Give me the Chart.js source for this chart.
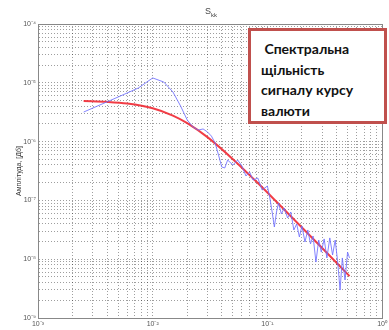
<!DOCTYPE html>
<html>
<head>
<meta charset="utf-8">
<script src="https://cdn.jsdelivr.net/npm/chart.js@4/dist/chart.umd.min.js"></script>
<style>
  html, body { margin: 0; padding: 0; background: #fff; }
  #wrap { position: relative; width: 389px; height: 330px; overflow: hidden; }
  #c { position: absolute; left: 0; top: 0; }
  #title { position: absolute; left: 205px; top: 6px; font: 9px "Liberation Sans", Arial, sans-serif; color: #444; }
  #title sub { font-size: 6px; }
  #note { position: absolute; left: 248px; top: 28px; width: 133px; height: 90px; border: 3px solid #c0504d; background: #fff;
          font: bold 14px Lato, "Open Sans", sans-serif; color: #111; line-height: 20.5px; padding: 0; box-sizing: content-box; }
  #note div { position: absolute; left: 10px; top: 8px; white-space: pre; }
</style>
</head>
<body>
<div id="wrap">
  <canvas id="c" width="389" height="330"></canvas>
  <div id="title">S<sub>kk</sub></div>
  <div id="note"><div> Спектральна
щільність
сигналу курсу
валюти</div></div>
</div>
<script>
// ---- data ----
const xDecades = [1e-3, 1e-2, 1e-1, 1e0];
const xTickLabels = ['10⁻³', '10⁻²', '10⁻¹', '10⁰'];
const yDecades = [1e-9, 1e-8, 1e-7, 1e-6, 1e-5, 1e-4];
const yTickLabels = ['10⁻⁹', '10⁻⁸', '10⁻⁷', '10⁻⁶', '10⁻⁵', '10⁻⁴'];
const yAxisTitle = 'Амплітуда, [Дб]';

const freqSpectrum = [0.0025,0.005,0.0075,0.01,0.0125,0.015,0.0175,0.02,0.0225,0.025,0.0275,0.03,0.0325,0.035,0.0375,0.04,0.0425,0.045,
  0.05,0.055,0.06,0.065,0.07,0.075,0.0825,0.09,0.1,0.105,0.11,0.115,0.12,0.125,0.1325,0.14,0.15,0.16,0.17,0.18,0.19,0.2,
  0.2125,0.225,0.2375,0.25,0.265,0.28,0.295,0.3125,0.33,0.35,0.37,0.39,0.41,0.43,0.45,0.475,0.5,0.52];
const ampSpectrum = [3.18e-6,5.74e-6,8.16e-6,1.21e-5,1.03e-5,6.98e-6,4.03e-6,2.33e-6,1.77e-6,1.57e-6,1.64e-6,1.46e-6,1.24e-6,9.5e-7,5.9e-7,3.7e-7,3.56e-7,4.86e-7,
  4.0e-7,4.86e-7,3.85e-7,2.60e-7,3.04e-7,2.22e-7,2.40e-7,1.50e-7,1.76e-7,1.10e-7,6.35e-8,3.53e-8,6.35e-8,9.0e-8,5.87e-8,7.43e-8,5.02e-8,6.35e-8,3.14e-8,3.97e-8,2.39e-8,3.67e-8,
  1.96e-8,3.14e-8,1.82e-8,2.48e-8,8.95e-9,2.12e-8,1.32e-8,2.21e-8,1.05e-8,2.30e-8,1.18e-8,2.12e-8,8.95e-9,2.99e-9,1.05e-8,4.43e-9,1.32e-8,1.05e-8];

const freqFit = [0.0025,0.004,0.006,0.01,0.015,0.02,0.03,0.05,0.08,0.12,0.2,0.3,0.52];
const ampFit = [4.9e-6,4.74e-6,4.44e-6,3.69e-6,2.77e-6,2.06e-6,1.19e-6,5.03e-7,2.09e-7,9.5e-8,3.47e-8,1.55e-8,5.16e-9];
// --------------------------------------

function gridTicks(decades) {
  const t = [];
  for (let i = 0; i < decades.length; i++) {
    t.push({ value: decades[i] });
    if (i < decades.length - 1) for (let m = 2; m <= 9; m++) t.push({ value: m * decades[i] });
  }
  return t;
}
function labelFor(decades, labels) {
  return (v) => {
    for (let i = 0; i < decades.length; i++) if (Math.abs(v / decades[i] - 1) < 1e-6) return labels[i];
    return '';
  };
}

const frame = {
  id: 'frame',
  afterDraw(chart) {
    const { ctx, chartArea: a } = chart;
    ctx.save();
    ctx.strokeStyle = '#888';
    ctx.lineWidth = 1;
    ctx.strokeRect(Math.round(a.left) + 0.5, Math.round(a.top) + 0.5, Math.round(a.right - a.left), Math.round(a.bottom - a.top));
    ctx.restore();
  }
};

const tickFont = { family: '"Liberation Sans", Arial, sans-serif', size: 7 };
const gridOpts = { color: 'rgba(0,0,0,0.38)', lineWidth: 1, tickLength: 0, drawTicks: false };
const borderOpts = { display: true, color: '#888', dash: [1, 2] };

new Chart(document.getElementById('c'), {
  type: 'line',
  data: {
    datasets: [
      {
        data: freqSpectrum.map((f, i) => ({ x: f, y: ampSpectrum[i] })),
        borderColor: 'rgba(110,110,255,0.85)', borderWidth: 1, pointRadius: 0, tension: 0
      },
      {
        data: freqFit.map((f, i) => ({ x: f, y: ampFit[i] })),
        borderColor: 'rgba(240,40,50,0.9)', borderWidth: 2, pointRadius: 0, cubicInterpolationMode: 'monotone'
      }
    ]
  },
  options: {
    responsive: false, animation: false, devicePixelRatio: 1,
    layout: { padding: { top: 24, right: 3, left: 0, bottom: 0 } },
    plugins: { legend: { display: false }, tooltip: { enabled: false }, title: { display: false } },
    scales: {
      x: {
        type: 'logarithmic', min: 1e-3, max: 1e0,
        afterBuildTicks: (s) => { s.ticks = gridTicks(xDecades); },
        afterFit: (s) => { s.height = 12; },
        ticks: { autoSkip: false, maxRotation: 0, padding: 2, color: '#555', font: tickFont, callback: labelFor(xDecades, xTickLabels) },
        grid: gridOpts, border: borderOpts
      },
      y: {
        type: 'logarithmic', min: 1e-9, max: 1e-4,
        afterBuildTicks: (s) => { s.ticks = gridTicks(yDecades); },
        afterFit: (s) => { s.width = 38; },
        ticks: { autoSkip: false, padding: 2, color: '#555', font: tickFont, callback: labelFor(yDecades, yTickLabels) },
        grid: gridOpts, border: borderOpts,
        title: { display: true, text: yAxisTitle, color: '#333', font: { family: '"Liberation Sans", Arial, sans-serif', size: 7 }, padding: { top: 15, bottom: 0 } }
      }
    }
  },
  plugins: [frame]
});
</script>
</body>
</html>
